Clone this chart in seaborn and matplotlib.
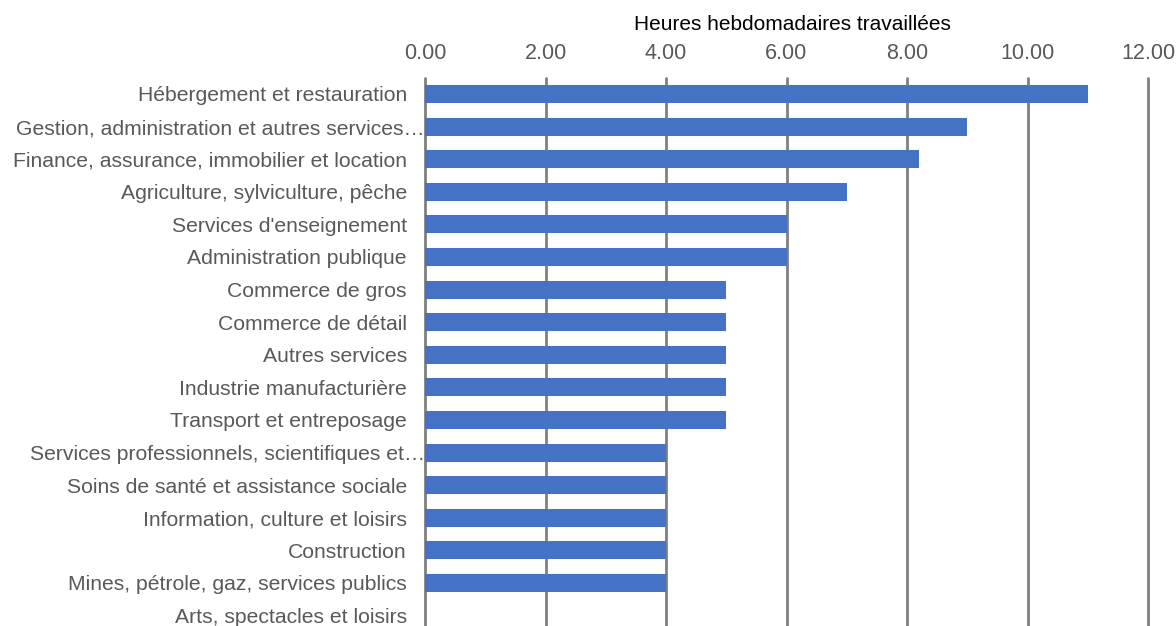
import pandas as pd
import seaborn as sns
import matplotlib.pyplot as plt
from matplotlib.transforms import ScaledTranslation

# Données
secteurs = [
    "Hébergement et restauration",
    "Gestion, administration et autres services…",
    "Finance, assurance, immobilier et location",
    "Agriculture, sylviculture, pêche",
    "Services d'enseignement",
    "Administration publique",
    "Commerce de gros",
    "Commerce de détail",
    "Autres services",
    "Industrie manufacturière",
    "Transport et entreposage",
    "Services professionnels, scientifiques et…",
    "Soins de santé et assistance sociale",
    "Information, culture et loisirs",
    "Construction",
    "Mines, pétrole, gaz, services publics",
    "Arts, spectacles et loisirs",
]
heures = [11, 9, 8.2, 7, 6, 6, 5, 5, 5, 5, 5, 4, 4, 4, 4, 4, 0]
ticks_x = [0, 2, 4, 6, 8, 10, 12]

df = pd.DataFrame({"secteur": secteurs, "heures": heures})

sns.set_theme(style="white")
plt.rcParams["font.family"] = ["Liberation Sans", "DejaVu Sans"]

fig = plt.figure(figsize=(11.76, 6.26), dpi=100)
ax = fig.add_axes([425 / 1176, 0, 723 / 1176, 548 / 626])
ax.set_axisbelow(True)

sns.barplot(data=df, x="heures", y="secteur", color="#4472C4",
            saturation=1, width=0.55, linewidth=0, ax=ax)

ax.set_xlim(0, 12)
ax.set_ylim(16.32, -0.49)
ax.set_xticks(ticks_x)
ax.set_xticklabels([f"{t:.2f}" for t in ticks_x])
ax.xaxis.tick_top()
ax.xaxis.set_label_position("top")
ax.set_xlabel("Heures hebdomadaires travaillées", fontsize=15, color="black")
ax.xaxis.set_label_coords(0.508, 1 + 48 / 548)
ax.xaxis.label.set_va("baseline")
ax.set_ylabel("")
ax.tick_params(axis="x", length=0, labelsize=15.5, labelcolor="#595959", pad=10)
ax.tick_params(axis="y", length=0, labelsize=15.2, labelcolor="#595959", pad=13)
ax.grid(axis="x", color="#808080", linewidth=2)
for line in ax.get_xgridlines():
    line.set_clip_on(False)
for s in ax.spines.values():
    s.set_visible(False)

# les libellés tronqués débordent jusqu'à l'axe
decalage = ScaledTranslation(18 / 100, 0, fig.dpi_scale_trans)
for lab in ax.get_yticklabels():
    if lab.get_text().endswith("…"):
        lab.set_transform(lab.get_transform() + decalage)

plt.savefig("out.png", dpi=100)
